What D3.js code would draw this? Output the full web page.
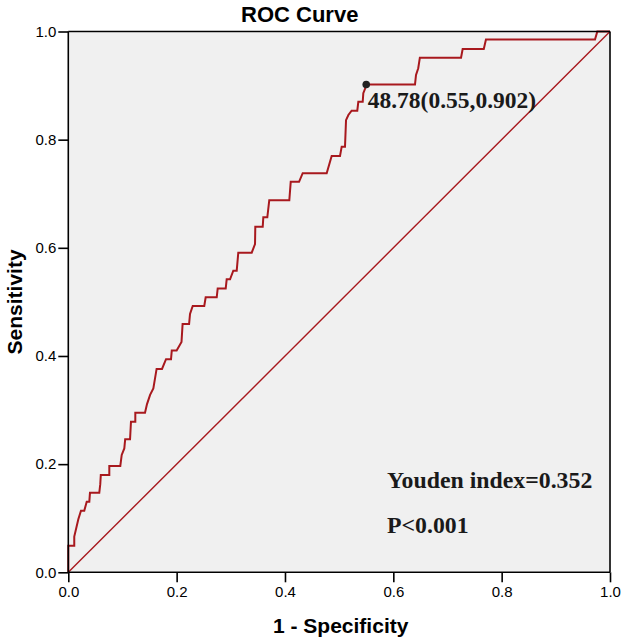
<!DOCTYPE html>
<html>
<head>
<meta charset="utf-8">
<script src="https://cdn.jsdelivr.net/npm/d3@7"></script>
<style>
  html, body { margin: 0; padding: 0; background: #fff; }
  svg { display: block; }
</style>
</head>
<body>
<svg id="chart" width="624" height="642"></svg>
<script>
// ---- data ----
const rocFpr = [0, 0, 0.011, 0.011, 0.0185, 0.0234, 0.0295, 0.034, 0.0388, 0.040, 0.0572, 0.059, 0.060, 0.0757, 0.0757,
  0.096, 0.0986, 0.1034, 0.105, 0.114, 0.1157, 0.1237, 0.1237, 0.1416, 0.1453, 0.151, 0.157, 0.163, 0.173, 0.1804,
  0.1896, 0.191, 0.200, 0.209, 0.211, 0.223, 0.2247, 0.2297, 0.251, 0.2536, 0.274, 0.2758, 0.2906, 0.2924, 0.2986,
  0.3046, 0.3109, 0.3138, 0.3386, 0.3447, 0.3452, 0.3589, 0.36, 0.3674, 0.371, 0.408, 0.4106, 0.426, 0.4327, 0.477,
  0.4862, 0.5016, 0.5047, 0.5108, 0.5127, 0.517, 0.523, 0.5335, 0.5354, 0.5435, 0.5446, 0.551, 0.640, 0.6419, 0.646,
  0.649, 0.725, 0.728, 0.767, 0.771, 0.9723, 0.9766, 1];
const rocSens = [0, 0.049, 0.049, 0.066, 0.098, 0.114, 0.114, 0.1306, 0.1306, 0.147, 0.147, 0.163, 0.18, 0.18, 0.1966,
  0.1966, 0.217, 0.229, 0.246, 0.246, 0.2785, 0.2785, 0.295, 0.295, 0.311, 0.328, 0.340, 0.376, 0.376, 0.394,
  0.394, 0.41, 0.41, 0.426, 0.459, 0.459, 0.4776, 0.4924, 0.4924, 0.5085, 0.5085, 0.525, 0.525, 0.5418, 0.5418,
  0.5577, 0.5577, 0.591, 0.591, 0.607, 0.639, 0.639, 0.6564, 0.6564, 0.688, 0.688, 0.722, 0.722, 0.738, 0.738,
  0.77, 0.77, 0.787, 0.787, 0.836, 0.8456, 0.8536, 0.8536, 0.870, 0.870, 0.886, 0.902, 0.902, 0.9197, 0.932,
  0.9516, 0.9516, 0.9676, 0.9676, 0.985, 0.985, 1, 1];
const refLineX = [0, 1];
const refLineY = [0, 1];
const cutoffPoint = [0.55, 0.902];
const cutoffLabel = "48.78(0.55,0.902)";
const tickValues = [0.0, 0.2, 0.4, 0.6, 0.8, 1.0];
const titleText = "ROC Curve";
const xLabel = "1 - Specificity";
const yLabel = "Sensitivity";
const notes = ["Youden index=0.352", "P<0.001"];

// ---- layout ----
const svg = d3.select("#chart");
const pLeft = 68.3, pRight = 610, pTop = 31.5, pBottom = 572.3;
const x = d3.scaleLinear().domain([0, 1]).range([pLeft, pRight]);
const y = d3.scaleLinear().domain([0, 1]).range([pBottom, pTop]);
const red = "#a8191e";
const sans = "'Liberation Sans', Arial, sans-serif";
const serif = "'Liberation Serif', 'Times New Roman', serif";

// background
svg.append("rect")
  .attr("x", pLeft + 1).attr("y", pTop + 1)
  .attr("width", pRight - pLeft - 2).attr("height", pBottom - pTop - 2)
  .attr("fill", "#f0f0f0");

// reference diagonal
svg.append("line")
  .attr("x1", x(refLineX[0])).attr("y1", y(refLineY[0]))
  .attr("x2", x(refLineX[1])).attr("y2", y(refLineY[1]))
  .attr("stroke", red).attr("stroke-width", 1.4);

// ROC curve
const pts = rocFpr.map((f, i) => [f, rocSens[i]]);
svg.append("path")
  .datum(pts)
  .attr("fill", "none")
  .attr("stroke", red)
  .attr("stroke-width", 2)
  .attr("stroke-linejoin", "miter")
  .attr("d", d3.line().x(d => x(d[0])).y(d => y(d[1])));

// frame (top/right)
svg.append("line").attr("x1", pLeft).attr("x2", pRight).attr("y1", pTop).attr("y2", pTop)
  .attr("stroke", "#000").attr("stroke-width", 1.6);
svg.append("line").attr("x1", pRight).attr("x2", pRight).attr("y1", pTop).attr("y2", pBottom)
  .attr("stroke", "#000").attr("stroke-width", 1.6);

// axes
const xAxis = d3.axisBottom(x).tickValues(tickValues).tickFormat(d3.format(".1f")).tickSize(10).tickPadding(4);
const yAxis = d3.axisLeft(y).tickValues(tickValues).tickFormat(d3.format(".1f")).tickSize(10).tickPadding(2);

const gx = svg.append("g").attr("transform", `translate(0,${pBottom})`).call(xAxis);
const gy = svg.append("g").attr("transform", `translate(${pLeft},0)`).call(yAxis);
[gx, gy].forEach(g => {
  g.select(".domain").attr("stroke", "#000").attr("stroke-width", 1.6);
  g.selectAll(".tick line").attr("stroke", "#000").attr("stroke-width", 1.6);
  g.selectAll(".tick text").attr("fill", "#000").style("font-family", sans).style("font-size", "15px");
});
gx.select(".domain").attr("d", `M${pLeft},0H${pRight}`);
gy.select(".domain").attr("d", `M0,${pBottom}V${pTop}`);

// cutoff point
svg.append("circle")
  .attr("cx", x(cutoffPoint[0])).attr("cy", y(cutoffPoint[1]))
  .attr("r", 3.8).attr("fill", "#222");
svg.append("text")
  .attr("x", x(cutoffPoint[0]) + 1.5).attr("y", y(cutoffPoint[1]) + 24)
  .style("font-family", serif).style("font-weight", "bold").style("font-size", "23.5px")
  .attr("fill", "#1a1a1a")
  .text(cutoffLabel);

// notes
svg.selectAll("text.note").data(notes).enter().append("text")
  .attr("class", "note")
  .attr("x", 387)
  .attr("y", (d, i) => 487.7 + i * 45.6)
  .style("font-family", serif).style("font-weight", "bold").style("font-size", "23.8px")
  .attr("fill", "#1a1a1a")
  .text(d => d);

// title & axis labels
svg.append("text")
  .attr("x", 299.7).attr("y", 21.7).attr("text-anchor", "middle")
  .style("font-family", sans).style("font-weight", "bold").style("font-size", "22px")
  .text(titleText);
svg.append("text")
  .attr("x", 340.7).attr("y", 633.3).attr("text-anchor", "middle")
  .style("font-family", sans).style("font-weight", "bold").style("font-size", "21px")
  .text(xLabel);
svg.append("text")
  .attr("transform", `translate(22,${(pTop + pBottom) / 2}) rotate(-90)`)
  .attr("text-anchor", "middle")
  .style("font-family", sans).style("font-weight", "bold").style("font-size", "21px")
  .text(yLabel);
</script>
</body>
</html>
